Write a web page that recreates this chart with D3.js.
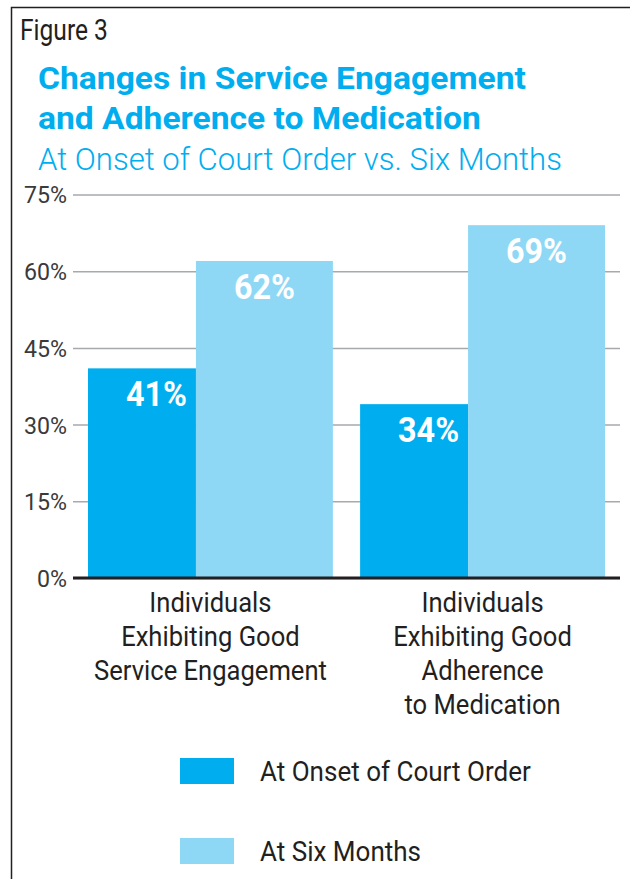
<!DOCTYPE html>
<html>
<head>
<meta charset="utf-8">
<script src="https://cdn.jsdelivr.net/npm/d3@7"></script>
<style>
  html, body { margin: 0; padding: 0; background: #fff; }
  svg { display: block; }
  text { font-family: Roboto, "Liberation Sans", sans-serif; }
</style>
</head>
<body>
<script>
var categories = [
  ["Individuals", "Exhibiting Good", "Service Engagement"],
  ["Individuals", "Exhibiting Good", "Adherence", "to Medication"]
];
var seriesNames = ["At Onset of Court Order", "At Six Months"];
var onsetValues = [41, 34];
var sixMonthValues = [62, 69];
var yTicks = [0, 15, 30, 45, 60, 75];

var width = 630, height = 879;
var colors = ["#00aeef", "#8ed8f6"];
var ink = "#231f20";

var svg = d3.select("body").append("svg")
    .attr("width", width)
    .attr("height", height);

// the original face is a condensed one; squeeze a normal face sideways
// so that a sample string ends up as wide as in the figure
var squeeze = function(sel, f) {
  sel.each(function() {
    var t = d3.select(this),
        x = +t.attr("x") || 0,
        y = +t.attr("y") || 0;
    t.attr("transform", "translate(" + x + "," + y + ") scale(" + f + ",1) translate(" + (-x) + "," + (-y) + ")");
  });
};
var factorFor = function(style, sample, target) {
  var t = svg.append("text").attr("x", 0).attr("y", -100).text(sample);
  style(t);
  var w = t.node().getComputedTextLength();
  t.remove();
  return target / w;
};

// frame (runs off the right and bottom edge like the crop)
svg.append("rect")
    .attr("x", 11.5)
    .attr("y", 7.5)
    .attr("width", 700)
    .attr("height", 1000)
    .attr("fill", "none")
    .attr("stroke", ink)
    .attr("stroke-width", 1.5);

var figStyle = function(s) { s.style("font-size", "30px"); };
svg.append("text")
    .attr("x", 20)
    .attr("y", 40)
    .attr("fill", ink)
    .call(figStyle)
    .text("Figure 3")
    .call(squeeze, factorFor(figStyle, "Figure 3", 88));

var titleLines = ["Changes in Service Engagement", "and Adherence to Medication"];
var titleStyle = function(s) { s.style("font-size", "32px").style("font-weight", "bold"); };
svg.selectAll(".title")
    .data(titleLines)
  .enter().append("text")
    .attr("class", "title")
    .attr("x", 38)
    .attr("y", function(d, i) { return 89 + i * 40.5; })
    .attr("fill", "#00aeef")
    .call(titleStyle)
    .text(function(d) { return d; })
    .call(squeeze, factorFor(titleStyle, titleLines[0], 488));

var subStyle = function(s) { s.style("font-size", "32px").style("font-weight", "300"); };
svg.append("text")
    .attr("x", 38)
    .attr("y", 170)
    .attr("fill", "#00aeef")
    .call(subStyle)
    .text("At Onset of Court Order vs. Six Months")
    .call(squeeze, factorFor(subStyle, "At Onset of Court Order vs. Six Months", 524));

var y = d3.scaleLinear()
    .domain([0, 75])
    .range([578, 194.5]);

var x0 = d3.scaleBand()
    .domain(d3.range(categories.length))
    .range([88, 605])
    .paddingInner(0.1)
    .paddingOuter(0);

// dark bar is narrower than the light one
var split = 108 / 245;

var yAxis = d3.axisLeft(y)
    .tickValues(yTicks)
    .tickSize(-(620 - 73))
    .tickFormat(function(d) { return d + "%"; });

var axisG = svg.append("g")
    .attr("transform", "translate(73,0)")
    .call(yAxis);

var tickStyle = function(s) { s.style("font-size", "24px"); };
axisG.select(".domain").remove();
axisG.selectAll(".tick line")
    .attr("stroke", "#a7a9ac")
    .attr("stroke-width", 1.5);
axisG.selectAll(".tick text")
    .attr("x", -6)
    .attr("y", 0)
    .attr("dy", "0.35em")
    .attr("fill", "#3a3a3a")
    .style("font-family", "Roboto, sans-serif")
    .call(tickStyle)
    .call(squeeze, factorFor(tickStyle, "75%", 43));

var rows = categories.map(function(c, i) {
  return { i: i, values: [onsetValues[i], sixMonthValues[i]] };
});

var groups = svg.selectAll(".group")
    .data(rows)
  .enter().append("g")
    .attr("class", "group")
    .attr("transform", function(d) { return "translate(" + x0(d.i) + ",0)"; });

var bw = x0.bandwidth();
var barX = function(j) { return j === 0 ? 0 : bw * split; };
var barW = function(j) { return j === 0 ? bw * split : bw * (1 - split); };

groups.selectAll("rect")
    .data(function(d) { return d.values; })
  .enter().append("rect")
    .attr("x", function(d, j) { return barX(j); })
    .attr("width", function(d, j) { return barW(j); })
    .attr("y", function(d) { return y(d); })
    .attr("height", function(d) { return y(0) - y(d); })
    .attr("fill", function(d, j) { return colors[j]; });

var valStyle = function(s) { s.style("font-size", "35px").style("font-weight", "bold"); };
groups.selectAll(".val")
    .data(function(d) { return d.values; })
  .enter().append("text")
    .attr("class", "val")
    .attr("x", function(d, j) { return j === 0 ? barW(0) - 9 : barX(1) + barW(1) / 2; })
    .attr("y", function(d) { return y(d) + 38; })
    .style("text-anchor", function(d, j) { return j === 0 ? "end" : "middle"; })
    .attr("fill", "#fff")
    .call(valStyle)
    .text(function(d) { return d + "%"; })
    .call(squeeze, factorFor(valStyle, "41%", 61));

// baseline
svg.append("line")
    .attr("x1", 73)
    .attr("x2", 620)
    .attr("y1", y(0))
    .attr("y2", y(0))
    .attr("stroke", ink)
    .attr("stroke-width", 3);

var catStyle = function(s) { s.style("font-size", "28px"); };
var catF = factorFor(catStyle, "Service Engagement", 233);

var catLabels = groups.append("text")
    .attr("x", bw / 2)
    .attr("y", 612)
    .style("text-anchor", "middle")
    .attr("fill", ink)
    .call(catStyle);

catLabels.selectAll("tspan")
    .data(function(d) { return categories[d.i]; })
  .enter().append("tspan")
    .attr("x", bw / 2)
    .attr("dy", function(d, i) { return i === 0 ? 0 : 34; })
    .text(function(d) { return d; });

catLabels.call(squeeze, catF);

var legend = svg.selectAll(".legend")
    .data(seriesNames)
  .enter().append("g")
    .attr("class", "legend")
    .attr("transform", function(d, i) { return "translate(180," + (758 + i * 80) + ")"; });

legend.append("rect")
    .attr("width", 54)
    .attr("height", 26)
    .attr("fill", function(d, i) { return colors[i]; });

legend.append("text")
    .attr("x", 80)
    .attr("y", 23)
    .attr("fill", ink)
    .call(catStyle)
    .text(function(d) { return d; })
    .call(squeeze, factorFor(catStyle, seriesNames[0], 271));
</script>
</body>
</html>
